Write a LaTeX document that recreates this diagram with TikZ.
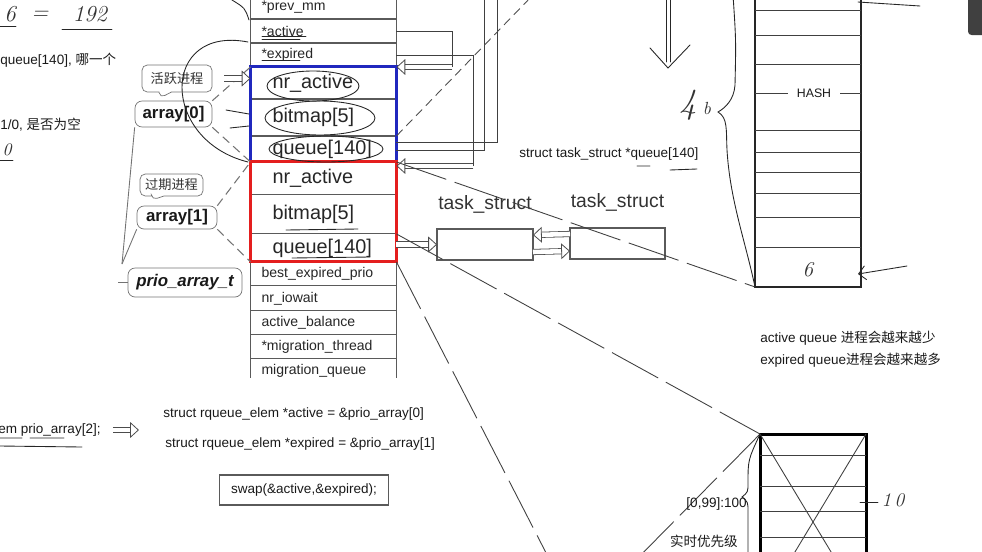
\documentclass[tikz,border=0pt]{standalone}
\usepackage{fontspec}
\setsansfont{Liberation Sans}
\newfontfamily\cjk{Noto Sans CJK SC}
\usetikzlibrary{arrows.meta,calc,positioning,shapes.callouts}
\definecolor{frameblue}{RGB}{32,40,190}
\definecolor{framered}{RGB}{228,30,30}
\definecolor{inkgray}{RGB}{90,90,90}
\tikzset{
  fld/.style={
    draw=inkgray,
    line width=0.6pt,
    outer sep=0pt,
    inner ysep=0pt,
    inner xsep=0.22cm,
    text width=2.48cm,
    align=left,
    minimum height=0.48cm,
    text=black!85,
    font=\sffamily\fontsize{8}{9}\selectfont
  },
  bigfld/.style={
    fld,
    inner xsep=0.44cm,
    text width=2.04cm,
    font=\sffamily\fontsize{11.3}{13}\selectfont
  },
  tag/.style={
    rectangle callout,
    draw=black!55,
    rounded corners=3pt,
    fill=white,
    inner sep=0pt,
    text=black!80,
    font=\cjk\fontsize{7.5}{8}\selectfont
  },
  arr/.style={
    draw=black!55,
    rounded corners=4pt,
    inner sep=0pt,
    text=black!90,
    font=\sffamily\bfseries\fontsize{9.6}{11}\selectfont
  },
  box/.style={
    draw=inkgray,
    line width=0.6pt,
    inner sep=0pt,
    outer sep=0pt
  },
  txt/.style={
    inner sep=0pt,
    text=black!90,
    font=\sffamily\fontsize{7.7}{9}\selectfont
  },
  lbl/.style={
    inner sep=0pt,
    text=black!80,
    font=\sffamily\fontsize{11}{13}\selectfont
  },
  ln/.style={draw=black!75, line width=0.5pt},
  lng/.style={ln, dash pattern=on 30pt off 5pt},
  dsh/.style={draw=black!55, line width=0.6pt, dash pattern=on 5pt off 3pt},
  hol/.style={
    draw=black!70,
    line width=0.45pt,
    double=white,
    double distance=2.6pt,
    -{Triangle[open, length=5pt, width=9pt]}
  },
  hnd/.style={draw=black!85, line width=0.5pt, line cap=round},
  hw/.style={inner sep=0pt, text=black!80, font=\rmfamily\itshape\fontsize{16}{16}\selectfont}
}
\begin{document}
\begin{tikzpicture}[x=0.02cm, y=-0.02cm]
\useasboundingbox (0,0) rectangle (982,551);
\clip (0,0) rectangle (982,551);

\begin{scope}
\clip (230,-10) rectangle (420,377);
\node[fld, anchor=north] (pm) at (323.5,-5) {*prev\_mm};
\node[fld, below=0pt of pm] (ac) {*active};
\node[fld, below=0pt of ac] (ex) {*expired};
\node[bigfld, minimum height=0.64cm, below=0pt of ex] (a1) {nr\_active};
\node[bigfld, minimum height=0.74cm, below=0pt of a1] (a2) {bitmap[5]};
\node[bigfld, minimum height=0.52cm, below=0pt of a2] (a3) {queue[140]};
\node[bigfld, minimum height=0.66cm, below=0pt of a3] (e1) {nr\_active};
\node[bigfld, minimum height=0.78cm, below=0pt of e1] (e2) {bitmap[5]};
\node[bigfld, minimum height=0.56cm, below=0pt of e2] (e3) {queue[140]};
\node[fld, below=0pt of e3] (r1) {best\_expired\_prio};
\node[fld, minimum height=0.5cm, below=0pt of r1] (r2) {nr\_iowait};
\node[fld, below=0pt of r2] (r3) {active\_balance};
\node[fld, below=0pt of r3] (r4) {*migration\_thread};
\node[fld, below=0pt of r4] (r5) {migration\_queue};
\draw[frameblue, line width=1.7pt] (a1.north west) rectangle (a3.south east);
\draw[framered, line width=1.7pt] (e1.north west) rectangle (e3.south east);
\end{scope}

\node[tag, minimum width=1.4cm, minimum height=0.54cm, callout absolute pointer={(160,98)}] (t0) at (177,78.5) {活跃进程};
\node[tag, minimum width=1.26cm, minimum height=0.44cm, callout absolute pointer={(152,200)}] (t1) at (171.5,185) {过期进程};
\node[arr, minimum width=1.54cm, minimum height=0.52cm] (r0) at (173.5,114) {array[0]};
\node[arr, minimum width=1.6cm, minimum height=0.46cm] (rr) at (177,217.5) {array[1]};
\node[arr, minimum width=2.28cm, minimum height=0.58cm, font=\sffamily\bfseries\itshape\fontsize{9.6}{11}\selectfont] (pa) at (185,282.5) {prio\_array\_t};
\coordinate (jn) at (122,264);
\draw[ln, draw=black!55] (r0.south west) -- (jn);
\draw[ln, draw=black!55] (rr.south west) -- (jn);
\draw[ln, draw=black!55] (pa.west) -- ++(-10,0);
\draw[dsh] (r0.north east) -- (a1.north west);
\draw[dsh] (r0.south east) -- (a3.south west);
\draw[dsh] (rr.north east) -- (e1.north west);
\draw[dsh] (rr.south east) -- (e3.south west);
\draw[hol] ([xshift=0.24cm]t0.east) -- (a1.west |- t0.east);

\node[box, minimum width=1.92cm, minimum height=0.62cm] (k1) at (485,244.5) {};
\node[box, minimum width=1.9cm, minimum height=0.62cm] (k2) at (617.5,243.5) {};
\node[lbl, above=0.3cm of k1] {task\_struct};
\node[lbl, above=0.32cm of k2] {task\_struct};
\draw[hol] (e3.east |- k1.west) -- (k1.west);
\draw[hol] ([yshift=0.19cm]k2.west) -- ([yshift=0.19cm]k1.east);
\draw[hol] ([yshift=-0.15cm]k1.east) -- ([yshift=-0.15cm]k2.west);

\draw[ln] (ac.east) -- ++(56,0) -- ++(0,36) coordinate (p1);
\draw[hol] (p1) -- (p1 -| a1.east);
\draw[ln] (ex.east) -- ++(77,0) -- ++(0,111) coordinate (p2);
\draw[hol] (p2) -- (p2 -| a3.east);
\coordinate (u1) at (497,-2);
\coordinate (u2) at (484,-2);
\draw[ln] (u1) |- (a3.east |- 0,142);
\draw[ln] (u2) |- (a3.east |- 0,150);
\coordinate (u3) at (531,-3);
\draw[dsh, draw=black!70, line width=0.5pt] (a3.north east) -- (u3);

\node[txt, anchor=west] (qs) at (519,154) {struct task\_struct *queue[140]};

\node[box, draw=black!85, minimum width=2.12cm, minimum height=5.84cm] (hs) at (808,141) {};
\foreach \y in {10,35,64,130,152,172,193,217,247}
  \draw[ln] (hs.west |- 0,\y) -- (hs.east |- 0,\y);
\draw[ln] (hs.west |- 0,93) -- (hs.east |- 0,93);
\node[txt, fill=white, inner xsep=0.18cm, inner ysep=1pt, font=\sffamily\fontsize{7}{8}\selectfont] (hh) at (814,93) {HASH};

\node[box, draw=black, line width=1.7pt, minimum width=2.12cm, minimum height=3.52cm] (rt) at (813,522) {};
\foreach \y in {455,486,511,537}
  \draw[ln] (rt.west |- 0,\y) -- (rt.east |- 0,\y);
\draw[ln] (rt.north west) -- (rt.south east);
\draw[ln] (rt.north east) -- (rt.south west);

\coordinate (c1) at (560,580);
\coordinate (c2) at (630,566);
\draw[lng] (a3.south east) -- (hs.south west);
\draw[lng] (e3.north east) -- (rt.north west);
\draw[lng] (e3.south east) -- (c1);
\draw[lng] (rt.north west) -- (c2);

\node[txt, anchor=west] (aq) at (760,338) {active queue {\cjk 进程会越来越少}};
\node[txt, anchor=west] (eq) at (760,360) {expired queue{\cjk 进程会越来越多}};
\node[txt, anchor=east] (rg) at (747,504) {[0,99]:100};
\node[txt, anchor=east] (rp) at (738,541) {\cjk 实时优先级};

\node[txt, anchor=west] (q0) at (0,60) {queue[140], {\cjk 哪一个}};
\node[txt, anchor=west] (q1) at (0,125) {1/0, {\cjk 是否为空}};
\node[txt, anchor=west] (pr) at (-2,430) {em prio\_array[2];};
\draw[hol] ([xshift=0.24cm]pr.east) -- ++(26,0);
\node[txt, anchor=west] (s1) at (163,414) {struct rqueue\_elem *active = \&prio\_array[0]};
\node[txt, anchor=west] (s2) at (165,444) {struct rqueue\_elem *expired = \&prio\_array[1]};
\node[box, txt, draw=inkgray, minimum width=3.38cm, minimum height=0.6cm] (sw) at (304,490) {swap(\&active,\&expired);};

\fill[black!75, rounded corners=2pt] (968,-4) rectangle (986,35);

\node[hw, font=\rmfamily\itshape\fontsize{13}{13}\selectfont] at (10,14) {6};
\node[hw, font=\rmfamily\itshape\fontsize{13}{13}\selectfont] at (40,15) {=};
\node[hw, font=\rmfamily\itshape\fontsize{13}{13}\selectfont] at (90,14) {192};
\draw[hnd] (0,26) -- (16,26);
\draw[hnd] (62,29) -- (112,29);
\node[hw, font=\rmfamily\itshape\fontsize{10}{10}\selectfont] at (7,150) {0};
\draw[hnd] (0,160) -- (13,160);
\draw[hnd] (0,438) -- (22,438) (30,438) -- (64,438) (0,446) -- (82,447);
\draw[hnd] (666,-5) -- (666,62) (670,-5) -- (670,62);
\draw[hnd] (650,48) -- (668,68) -- (690,45);
\node[hw, font=\rmfamily\itshape\fontsize{20}{20}\selectfont] at (688,105) {4};
\node[hw, font=\rmfamily\itshape\fontsize{10}{10}\selectfont] at (707,108) {b};
\draw[hnd] (733,-5) .. controls (736,40) .. (735,85) .. controls (734,100) and (725,108) .. (718,112) .. controls (728,118) and (726,130) .. (727,150) .. controls (730,200) and (745,240) .. (hs.south west);
\node[hw, font=\rmfamily\itshape\fontsize{12}{12}\selectfont] at (808,270) {6};
\draw[hnd, -{Straight Barb[length=4pt]}] (907,266) -- (858,274);
\draw[hnd] (858,2) -- (920,6);
\draw[hnd] (rt.north west) .. controls (748,460) .. (748,483) .. controls (748,492) .. (742,497) .. controls (748,502) .. (748,512) -- (748,556);
\draw[hnd] (860,502) -- (878,502);
\node[hw, font=\rmfamily\itshape\fontsize{11}{11}\selectfont] at (893,500) {1\,0};
\draw[hnd] (313,86) ellipse (46 and 15);
\draw[hnd] (320,118) ellipse (55 and 17);
\draw[hnd] (326,149) ellipse (57 and 13);
\draw[hnd] (262,36) -- (306,36) (262,39) -- (300,39);
\draw[hnd] (262,60) -- (300,60);
\draw[hnd] (286,230) -- (358,229);
\draw[hnd] (292,258) -- (370,257);
\draw[hnd] (637,166) -- (650,166) (670,170) -- (697,169);
\draw[hnd] (248,42) .. controls (160,25) and (160,140) .. (248,162);
\draw[hnd] (232,0) .. controls (245,8) .. (249,20);
\draw[hnd] (226,110) -- (249,114);
\draw[hnd] (230,128) -- (249,126);
\end{tikzpicture}
\end{document}
